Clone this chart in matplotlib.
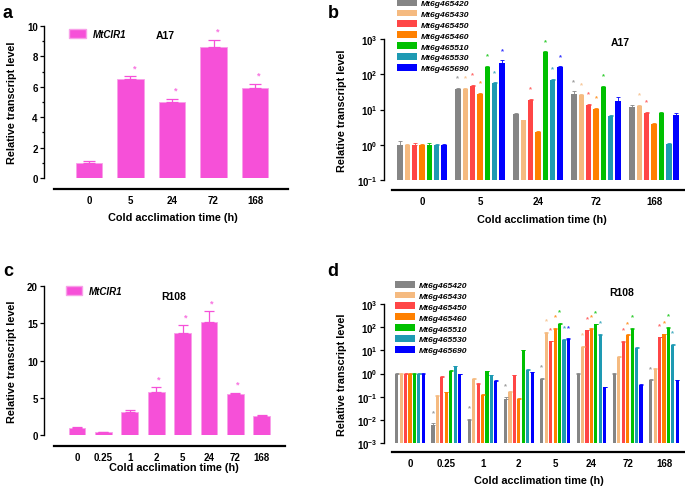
import numpy as np
import matplotlib
matplotlib.use("Agg")
import matplotlib.pyplot as plt
from matplotlib.patches import Patch
from matplotlib.ticker import FixedLocator, FuncFormatter, NullLocator

W, H = 685, 489

# MtCIR1, A17 (panel a)
times_a = ["0", "5", "24", "72", "168"]
cir1_a = [1.0, 6.5, 5.0, 8.6, 5.9]
cir1_a_sd = [0.1, 0.2, 0.22, 0.5, 0.3]
cir1_a_sig = [0, 1, 1, 1, 1]

# MtCIR1, R108 (panel c)
times_c = ["0", "0.25", "1", "2", "5", "24", "72", "168"]
cir1_c = [1.0, 0.38, 3.1, 5.8, 13.7, 15.2, 5.5, 2.6]
cir1_c_sd = [0.06, 0.04, 0.2, 0.65, 1.0, 1.4, 0.2, 0.1]
cir1_c_sig = [0, 0, 0, 1, 1, 1, 1, 0]

genes = ["Mt6g465420", "Mt6g465430", "Mt6g465450", "Mt6g465460",
         "Mt6g465510", "Mt6g465530", "Mt6g465690"]
gene_colors = ["#858585", "#F5BA80", "#FF4646", "#FF8000",
               "#00C000", "#1E9AB3", "#0000FF"]

# genes, A17 (panel b): rows = genes, cols = times_a
genes_b = [
    [1.0, 38, 7.5, 27, 11.6],
    [1.0, 39, 4.9, 25, 12.5],
    [1.0, 46, 18.5, 13.5, 8.0],
    [1.0, 28, 2.3, 10.6, 3.8],
    [1.0, 165, 420, 44, 7.9],
    [1.0, 56, 69, 6.5, 1.07],
    [1.0, 210, 160, 18, 7.2],
]
genes_b_sd = [
    [0.3, 3, 0.4, 6, 1.6],
    [0.05, 3, 0.3, 2, 1.0],
    [0.15, 4, 1.5, 1.0, 0.5],
    [0.05, 2, 0.1, 0.6, 0.3],
    [0.1, 10, 30, 3, 0.5],
    [0.05, 4, 5, 0.5, 0.08],
    [0.08, 40, 10, 4, 0.6],
]
genes_b_sig = [
    [0, 1, 0, 1, 0],
    [0, 1, 0, 1, 1],
    [0, 1, 1, 1, 1],
    [0, 1, 0, 1, 0],
    [0, 1, 1, 1, 0],
    [0, 1, 1, 0, 0],
    [0, 1, 1, 0, 0],
]

# genes, R108 (panel d): rows = genes, cols = times_c
genes_d = [
    [1.0, 0.0062, 0.010, 0.08, 0.59, 0.97, 1.0, 0.5],
    [1.0, 0.11, 0.59, 0.167, 57, 13.8, 5.4, 1.6],
    [1.0, 0.72, 0.36, 0.82, 25, 73, 23, 36],
    [1.0, 0.155, 0.123, 0.08, 86, 83, 45, 49],
    [1.0, 1.26, 1.22, 10, 140, 136, 86, 95],
    [1.0, 2.08, 0.82, 1.44, 29, 47, 12.9, 17.4],
    [1.0, 0.93, 0.47, 1.15, 31, 0.25, 0.33, 0.5],
]
genes_d_sd = [
    [0.04, 0.0008, 0.001, 0.015, 0.06, 0.1, 0.05, 0.06],
    [0.04, 0.005, 0.03, 0.01, 5, 1.5, 0.4, 0.1],
    [0.05, 0.05, 0.03, 0.06, 1.5, 6, 2, 3],
    [0.05, 0.01, 0.01, 0.008, 6, 8, 4, 4],
    [0.06, 0.1, 0.08, 0.5, 10, 5, 5, 6],
    [0.04, 0.1, 0.06, 0.1, 2, 5, 0.8, 1.5],
    [0.05, 0.05, 0.04, 0.06, 2, 0.02, 0.03, 0.04],
]
genes_d_sig = [
    [0, 1, 1, 1, 1, 0, 0, 1],
    [0, 0, 0, 0, 1, 1, 0, 0],
    [0, 0, 0, 0, 1, 1, 1, 1],
    [0, 0, 0, 0, 1, 1, 1, 1],
    [0, 0, 0, 0, 1, 1, 1, 1],
    [0, 0, 0, 0, 1, 1, 0, 1],
    [0, 0, 0, 0, 1, 0, 0, 0],
]

PINK = "#F650D8"
PINK_LIGHT = "#F8A0E8"

plt.rcParams.update({
    "font.family": ["Liberation Sans", "DejaVu Sans"],
    "font.weight": "bold",
    "axes.labelweight": "bold",
    "mathtext.fontset": "custom",
    "mathtext.bf": "Liberation Sans:bold",
    "mathtext.rm": "Liberation Sans:bold",
})


def add_axes(fig, left, top, right, bottom):
    return fig.add_axes([left / W, 1 - bottom / H, (right - left) / W, (bottom - top) / H])


def style(ax, xlim, xbound, offset, labels, xl, yl):
    ax.set_xlim(*xlim)
    for s in ("top", "right"):
        ax.spines[s].set_visible(False)
    ax.spines["left"].set_linewidth(1.0)
    ax.spines["bottom"].set_linewidth(1.6)
    ax.spines["bottom"].set_position(("outward", offset * 0.72))
    ax.spines["bottom"].set_bounds(*xbound)
    ax.set_xticks(range(len(labels)))
    ax.set_xticklabels(labels)
    ax.tick_params(axis="x", length=0, pad=4, labelsize=7)
    ax.tick_params(axis="y", which="major", length=3, width=0.9, pad=1.5, labelsize=7)
    ax.tick_params(axis="y", which="minor", length=1.6, width=0.9)
    ax.set_xlabel("Cold acclimation time (h)", fontsize=7.8)
    ax.set_ylabel("Relative transcript level", fontsize=7.8)
    ax.xaxis.set_label_coords(*xl)
    ax.xaxis.label.set_va("center")
    ax.yaxis.set_label_coords(*yl)
    ax.yaxis.label.set_va("center")


def single_panel(ax, vals, sd, sig, width, cap, star_gap):
    x = np.arange(len(vals))
    ax.bar(x, vals, width=width, color=PINK, edgecolor=PINK_LIGHT, linewidth=0.6)
    ax.errorbar(x, vals, yerr=[np.zeros(len(vals)), sd], fmt="none", ecolor=PINK,
                elinewidth=0.9, capsize=cap, capthick=0.9)
    for xi, v, s, g in zip(x, vals, sd, sig):
        if g:
            ax.text(xi + 0.1, v + s + star_gap, "*", color=PINK, ha="center", va="center",
                    fontsize=6.5, alpha=0.8)


def gene_panel(ax, data, sd, sig, slot, width, ymin, star_fac):
    x = np.arange(len(data[0]))
    for j, (row, err, sg, c) in enumerate(zip(data, sd, sig, gene_colors)):
        xs = x + (j - 3) * slot
        row = np.array(row, dtype=float)
        ax.bar(xs, row - ymin, bottom=ymin, width=width, color=c, linewidth=0)
        ax.errorbar(xs, row, yerr=[np.zeros(len(row)), err], fmt="none", ecolor=c,
                    elinewidth=0.6, capsize=1.2, capthick=0.6)
        for xi, v, e, g in zip(xs, row, err, sg):
            if g:
                ax.text(xi, (v + e) * star_fac, "*", color=c, ha="center", va="center",
                        fontsize=5.5, alpha=0.8)
    ax.set_yscale("log")


def log_fmt(v, pos):
    return r"$\mathbf{10^{%d}}$" % int(round(np.log10(v)))


def gene_legend(ax, fig, x_px, y_px):
    handles = [Patch(facecolor=c, edgecolor="none") for c in gene_colors]
    ax.legend(handles, genes, loc="center left", bbox_to_anchor=(x_px / W, 1 - y_px / H),
              bbox_transform=fig.transFigure, frameon=False, borderpad=0, borderaxespad=0,
              handlelength=2.4, handleheight=0.85, handletextpad=0.4, labelspacing=0.3,
              prop=dict(weight="bold", style="italic", size=6.1))


fig = plt.figure(figsize=(W / 100, H / 100), dpi=100)

# (a)
ax = add_axes(fig, 44, 27, 288, 179)
single_panel(ax, cir1_a, cir1_a_sd, cir1_a_sig, 0.65, 4.5, 0.55)
ax.set_ylim(0, 10)
ax.yaxis.set_major_locator(FixedLocator([0, 2, 4, 6, 8, 10]))
ax.yaxis.set_minor_locator(FixedLocator([1, 3, 5, 7, 9]))
style(ax, (-1.084, 4.795), (-0.843, 4.795), 11, times_a, (0.53, -0.257), (-0.131, 0.5))
ax.legend([Patch(facecolor=PINK, edgecolor=PINK_LIGHT)], ["MtCIR1"], loc="center left",
          bbox_to_anchor=(69 / W, 1 - 35 / H), bbox_transform=fig.transFigure, frameon=False,
          borderpad=0, borderaxespad=0, handlelength=1.7, handleheight=1.0, handletextpad=0.8,
          prop=dict(weight="bold", style="italic", size=7))
fig.text(165 / W, 1 - 36 / H, "A17", ha="center", va="center", fontsize=7.5, weight="bold")

# (c)
ax = add_axes(fig, 44, 287, 288, 436)
single_panel(ax, cir1_c, cir1_c_sd, cir1_c_sig, 0.64, 3.5, 1.1)
ax.set_ylim(0, 20)
ax.yaxis.set_major_locator(FixedLocator([0, 5, 10, 15, 20]))
ax.yaxis.set_minor_locator(NullLocator())
style(ax, (-1.25, 7.99), (-0.871, 7.87), 11, times_c, (0.531, -0.215), (-0.131, 0.5))
ax.legend([Patch(facecolor=PINK, edgecolor=PINK_LIGHT)], ["MtCIR1"], loc="center left",
          bbox_to_anchor=(66 / W, 1 - 292 / H), bbox_transform=fig.transFigure, frameon=False,
          borderpad=0, borderaxespad=0, handlelength=1.6, handleheight=1.0, handletextpad=0.7,
          prop=dict(weight="bold", style="italic", size=7))
fig.text(174 / W, 1 - 297 / H, "R108", ha="center", va="center", fontsize=7.5, weight="bold")

# (b)
ax = add_axes(fig, 384, 40, 684, 181)
gene_panel(ax, genes_b, genes_b_sd, genes_b_sig, 0.127, 0.095, 0.1, 1.9)
ax.set_ylim(0.1, 1000)
ax.yaxis.set_major_locator(FixedLocator([0.1, 1, 10, 100, 1000]))
ax.yaxis.set_minor_locator(NullLocator())
ax.yaxis.set_major_formatter(FuncFormatter(log_fmt))
style(ax, (-0.655, 4.517), (-0.517, 4.517), 10, times_a, (0.527, -0.277), (-0.14, 0.5))
gene_legend(ax, fig, 397, 36.5)
fig.text(620 / W, 1 - 43 / H, "A17", ha="center", va="center", fontsize=7.5, weight="bold")

# (d)
ax = add_axes(fig, 384, 305, 684, 444)
gene_panel(ax, genes_d, genes_d_sd, genes_d_sig, 0.122, 0.085, 0.001, 3.0)
ax.set_ylim(0.001, 1000)
ax.yaxis.set_major_locator(FixedLocator([0.001, 0.01, 0.1, 1, 10, 100, 1000]))
ax.yaxis.set_minor_locator(NullLocator())
ax.yaxis.set_major_formatter(FuncFormatter(log_fmt))
style(ax, (-0.716, 7.55), (-0.496, 7.55), 9, times_c, (0.517, -0.266), (-0.14, 0.5))
gene_legend(ax, fig, 395, 318.5)
fig.text(622 / W, 1 - 293 / H, "R108", ha="center", va="center", fontsize=7.5, weight="bold")

# panel letters
for lab, xp, yp in [("a", 8, 14), ("b", 333, 14), ("c", 8, 271), ("d", 333, 271)]:
    fig.text(xp / W, 1 - yp / H, lab, ha="center", va="center", fontsize=13, weight="bold")

fig.savefig("out.png", dpi=100)
